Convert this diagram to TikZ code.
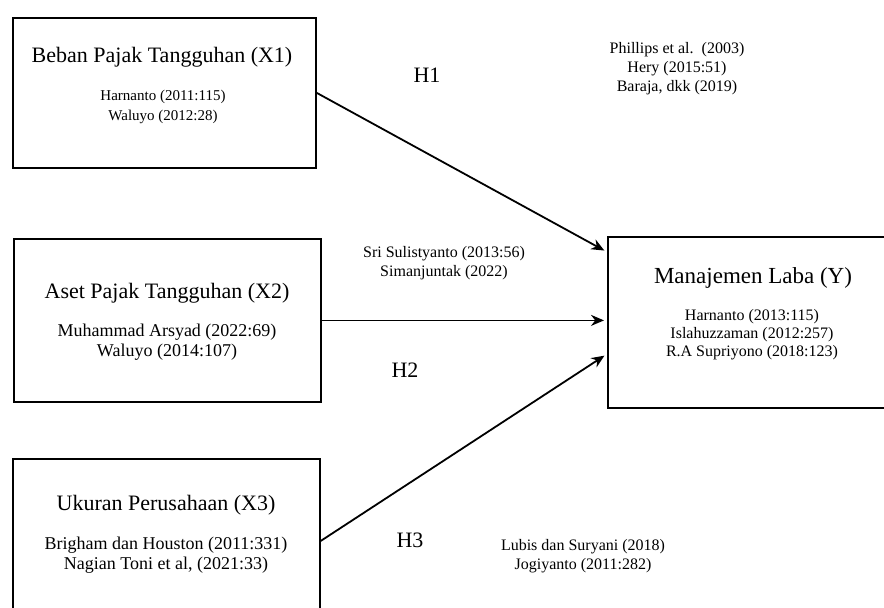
\documentclass[tikz,border=0pt]{standalone}
\usepackage{fontspec}
\setmainfont{Liberation Serif}
\usepackage{tikz}
\usetikzlibrary{arrows.meta,positioning}
\tikzset{
    %Define standard arrow tip
    >={Stealth[length=13pt,width=11pt]},
    %Define style for boxes
    kotak/.style={
           rectangle,
           draw=black, line width=1.8pt,
           anchor=north west,
           inner sep=0pt},
    judul/.style={
           font=\fontsize{22}{26}\selectfont,
           text centered},
    sumber/.style={
           align=center,
           font=\fontsize{15}{20}\selectfont},
    sumberb/.style={
           align=center,
           font=\fontsize{18}{20}\selectfont},
    catatan/.style={
           align=center,
           font=\fontsize{16}{19}\selectfont},
    hipo/.style={
           font=\fontsize{22}{26}\selectfont},
    % Define arrow style
    pil/.style={
           ->,
           line width=1.8pt,
           shorten >=3pt}
}
\begin{document}
\begin{tikzpicture}[x=1pt,y=-1pt]
\useasboundingbox (0,0) rectangle (884,608);
% variabel
\node[kotak, minimum width=303pt, minimum height=150pt] (x1) at (12,17) {};
\node[kotak, minimum width=307pt, minimum height=163pt] (x2) at (13,238) {};
\node[kotak, minimum width=307pt, minimum height=152pt] (x3) at (12,458) {};
\node[kotak, minimum width=300pt, minimum height=171pt] (y) at (607,236) {};

\node[judul] (t1) at (162,57) {Beban Pajak Tangguhan (X1)};
\node[sumber] (s1) at (163,107) {Harnanto (2011:115)\\Waluyo (2012:28)};
\node[judul] (t2) at (167,293) {Aset Pajak Tangguhan (X2)};
\node[sumberb] (s2) at (167,342) {Muhammad Arsyad (2022:69)\\Waluyo (2014:107)};
\node[judul] (t3) at (166,505) {Ukuran Perusahaan (X3)};
\node[sumberb] (s3) at (166,555) {Brigham dan Houston (2011:331)\\Nagian Toni et al, (2021:33)};
\node[judul, font=\fontsize{23}{26}\selectfont] (ty) at (753,278) {Manajemen Laba (Y)};
\node[sumber, font=\fontsize{16}{18}\selectfont] (sy) at (752,335) {Harnanto (2013:115)\\Islahuzzaman (2012:257)\\R.A Supriyono (2018:123)};

% hipotesis
\node[hipo] (h1) at (427,75) {H1};
\node[hipo] (h2) at (405,370) {H2};
\node[hipo] (h3) at (410,540) {H3};
\node[catatan] (c1) at (677,69) {Phillips et al.\ \ (2003)\\Hery (2015:51)\\Baraja, dkk (2019)};
\node[catatan] (c2) at (444,263) {Sri Sulistyanto (2013:56)\\Simanjuntak (2022)};
\node[catatan] (c3) at (583,556) {Lubis dan Suryani (2018)\\Jogiyanto (2011:282)};

\path[pil]
	(x1.east) edge ([yshift=-16pt]y.north west)
	(x2.east) edge (x2.east -| y.west)
	([yshift=-6pt]x3.east) edge ([yshift=-118pt]y.north west);
\end{tikzpicture}
\end{document}
